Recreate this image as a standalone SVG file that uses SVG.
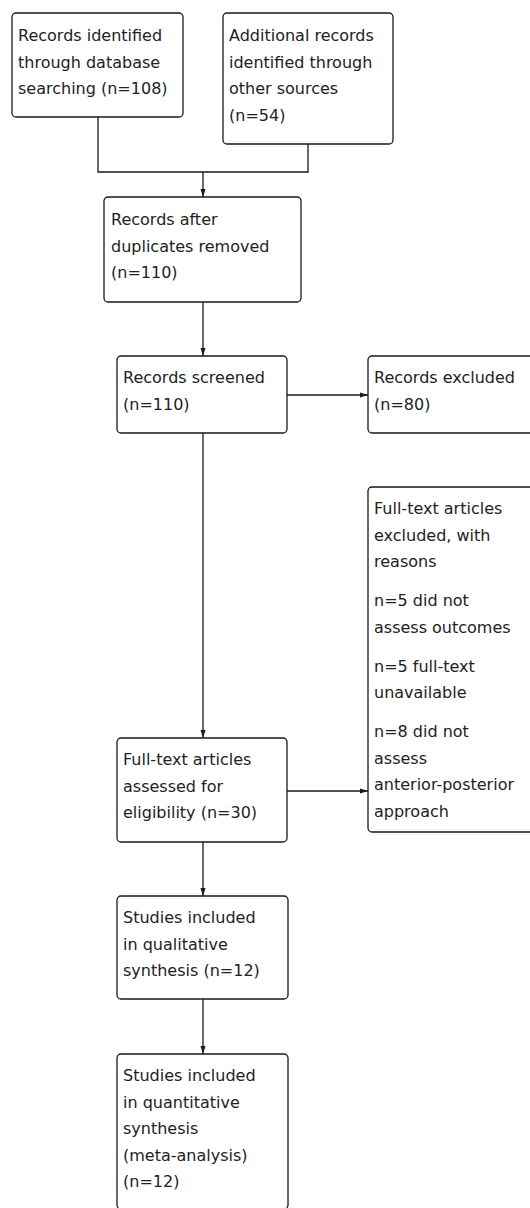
<svg xmlns="http://www.w3.org/2000/svg" width="530" height="1208" viewBox="0 0 530 1208">
<style>
.box{fill:#fff;stroke:#1a1a1a;stroke-width:1.3}
.t{font-family:"DejaVu Sans",sans-serif;font-size:16px;fill:#222}
.ln{fill:none;stroke:#1a1a1a;stroke-width:1.3}
</style>
<defs>
<marker id="ah" markerWidth="8" markerHeight="6" refX="8" refY="3" orient="auto" markerUnits="userSpaceOnUse">
<path d="M0,0.5 L8,3 L0,5.5 Z" fill="#1a1a1a"/>
</marker>
</defs>
<rect width="530" height="1208" fill="#fff"/>
<g id="connectors">
<path class="ln" d="M98,117 V172 H308 V144"/>
<path class="ln" d="M203,172 V197" marker-end="url(#ah)"/>
<path class="ln" d="M203,302 V356" marker-end="url(#ah)"/>
<path class="ln" d="M287,395 H368" marker-end="url(#ah)"/>
<path class="ln" d="M203,433 V738" marker-end="url(#ah)"/>
<path class="ln" d="M287,791 H368" marker-end="url(#ah)"/>
<path class="ln" d="M203,842 V896" marker-end="url(#ah)"/>
<path class="ln" d="M203,999 V1054" marker-end="url(#ah)"/>
</g>
<g id="n1">
<rect class="box" x="12" y="13" width="171" height="104" rx="4"/>
<text class="t" x="18"><tspan x="18" y="41">Records identified</tspan><tspan x="18" y="67.5">through database</tspan><tspan x="18" y="94">searching (n=108)</tspan></text>
</g>
<g id="n2">
<rect class="box" x="223" y="13" width="170" height="131" rx="4"/>
<text class="t"><tspan x="229" y="41">Additional records</tspan><tspan x="229" y="67.5">identified through</tspan><tspan x="229" y="94">other sources</tspan><tspan x="229" y="120.5">(n=54)</tspan></text>
</g>
<g id="n3">
<rect class="box" x="104" y="197" width="197" height="105" rx="4"/>
<text class="t"><tspan x="111" y="225">Records after</tspan><tspan x="111" y="251.5">duplicates removed</tspan><tspan x="111" y="278">(n=110)</tspan></text>
</g>
<g id="n4">
<rect class="box" x="117" y="356" width="170" height="77" rx="4"/>
<text class="t"><tspan x="123" y="383">Records screened</tspan><tspan x="123" y="409.5">(n=110)</tspan></text>
</g>
<g id="n5">
<rect class="box" x="368" y="356" width="170" height="77" rx="4"/>
<text class="t"><tspan x="374" y="383">Records excluded</tspan><tspan x="374" y="409.5">(n=80)</tspan></text>
</g>
<g id="n6">
<rect class="box" x="368" y="487" width="170" height="345" rx="4"/>
<text class="t"><tspan x="374" y="514">Full-text articles</tspan><tspan x="374" y="540.5">excluded, with</tspan><tspan x="374" y="567">reasons</tspan><tspan x="374" y="606">n=5 did not</tspan><tspan x="374" y="632.5">assess outcomes</tspan><tspan x="374" y="671.5">n=5 full-text</tspan><tspan x="374" y="698">unavailable</tspan><tspan x="374" y="737">n=8 did not</tspan><tspan x="374" y="763.5">assess</tspan><tspan x="374" y="790">anterior-posterior</tspan><tspan x="374" y="816.5">approach</tspan></text>
</g>
<g id="n7">
<rect class="box" x="117" y="738" width="170" height="104" rx="4"/>
<text class="t"><tspan x="123" y="765">Full-text articles</tspan><tspan x="123" y="791.5">assessed for</tspan><tspan x="123" y="818">eligibility (n=30)</tspan></text>
</g>
<g id="n8">
<rect class="box" x="117" y="896" width="171" height="103" rx="4"/>
<text class="t"><tspan x="123" y="923">Studies included</tspan><tspan x="123" y="949.5">in qualitative</tspan><tspan x="123" y="976">synthesis (n=12)</tspan></text>
</g>
<g id="n9">
<rect class="box" x="117" y="1054" width="171" height="155" rx="4"/>
<text class="t"><tspan x="123" y="1081">Studies included</tspan><tspan x="123" y="1107.5">in quantitative</tspan><tspan x="123" y="1134">synthesis</tspan><tspan x="123" y="1160.5">(meta-analysis)</tspan><tspan x="123" y="1187">(n=12)</tspan></text>
</g>
</svg>
